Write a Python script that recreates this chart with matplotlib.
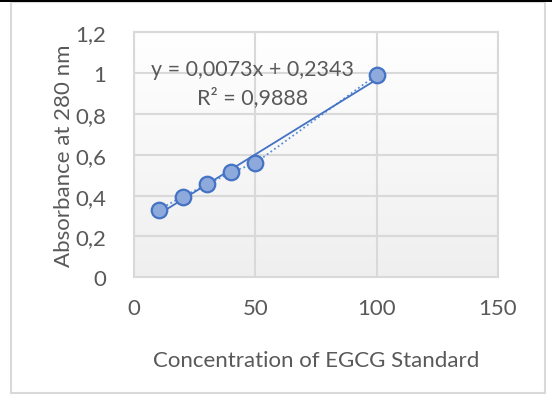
import numpy as np
import matplotlib
matplotlib.use("Agg")
import matplotlib.pyplot as plt
from matplotlib.patches import Rectangle
from matplotlib.colors import LinearSegmentedColormap
from matplotlib.ticker import FuncFormatter

# EGCG standard curve data
concentration = [10, 20, 30, 40, 50, 100]
absorbance = [0.331, 0.395, 0.455, 0.514, 0.560, 0.991]
equation_text = "y = 0,0073x + 0,2343"
r2_text = "R² = 0,9888"
x_ticks = [0, 50, 100, 150]
y_ticks = [0, 0.2, 0.4, 0.6, 0.8, 1.0, 1.2]

plt.rcParams['font.family'] = ['Lato', 'DejaVu Sans']
text_color = '#595959'
blue = '#4472C4'

fig = plt.figure(figsize=(5.52, 4.10), dpi=100)
ax = fig.add_axes([134.3 / 552, 131.7 / 410, 363.4 / 552, 245 / 410])

# gradient plot-area fill (white at top, light gray at bottom)
grad = np.linspace(1, 0, 256).reshape(-1, 1)
cmap = LinearSegmentedColormap.from_list('g', ['#EFEFEF', '#FFFFFF'])
ax.imshow(grad, extent=[0, 150, 0, 1.2], aspect='auto', cmap=cmap, origin='upper', zorder=0)

# linear trendline (least squares) - solid
slope, intercept = np.polyfit(concentration, absorbance, 1)
xs = np.array([min(concentration), max(concentration)])
ax.plot(xs, slope * xs + intercept, color=blue, lw=1.3, zorder=3)

# data joined by dotted line
ax.plot(concentration, absorbance, color='#5B8FD5', lw=1.3, ls=(0, (1, 1.5)), zorder=2)
ax.scatter(concentration, absorbance, s=125, facecolor='#8EA9DB', edgecolor=blue, linewidth=1.6, zorder=4)

ax.text(48.8, 1.02, equation_text, ha='center', va='center', fontsize=15.5, color=text_color, zorder=5)
ax.text(48.8, 0.884, r2_text, ha='center', va='center', fontsize=15.5, color=text_color, zorder=5)

ax.set_xlim(0, 150)
ax.set_ylim(0, 1.2)
ax.set_xticks(x_ticks)
ax.set_yticks(y_ticks)
fmt = FuncFormatter(lambda v, p: '{:g}'.format(round(v, 2)).replace('.', ','))
ax.xaxis.set_major_formatter(fmt)
ax.yaxis.set_major_formatter(fmt)
ax.tick_params(length=0, labelsize=16, labelcolor=text_color)
ax.tick_params(axis='y', pad=20)
ax.tick_params(axis='x', pad=15)
ax.grid(True, color='#D9D9D9', lw=1.5, zorder=1)
ax.set_axisbelow(True)
for s in ax.spines.values():
    s.set_color('#D9D9D9')
    s.set_linewidth(1.5)

ax.set_xlabel('Concentration of EGCG Standard', fontsize=16, color=text_color, labelpad=23)
ax.set_ylabel('Absorbance at 280 nm', fontsize=16, color=text_color, labelpad=1)

# chart outer border and top dark strip
fig.patches.append(Rectangle((11 / 552, 16 / 410), 534 / 552, 391 / 410, transform=fig.transFigure,
                             fill=False, edgecolor='#D9D9D9', lw=1.5))
fig.patches.append(Rectangle((0, 407 / 410), 1, 3 / 410, transform=fig.transFigure,
                             facecolor='black', edgecolor='none'))

fig.savefig('out.png', dpi=100)
